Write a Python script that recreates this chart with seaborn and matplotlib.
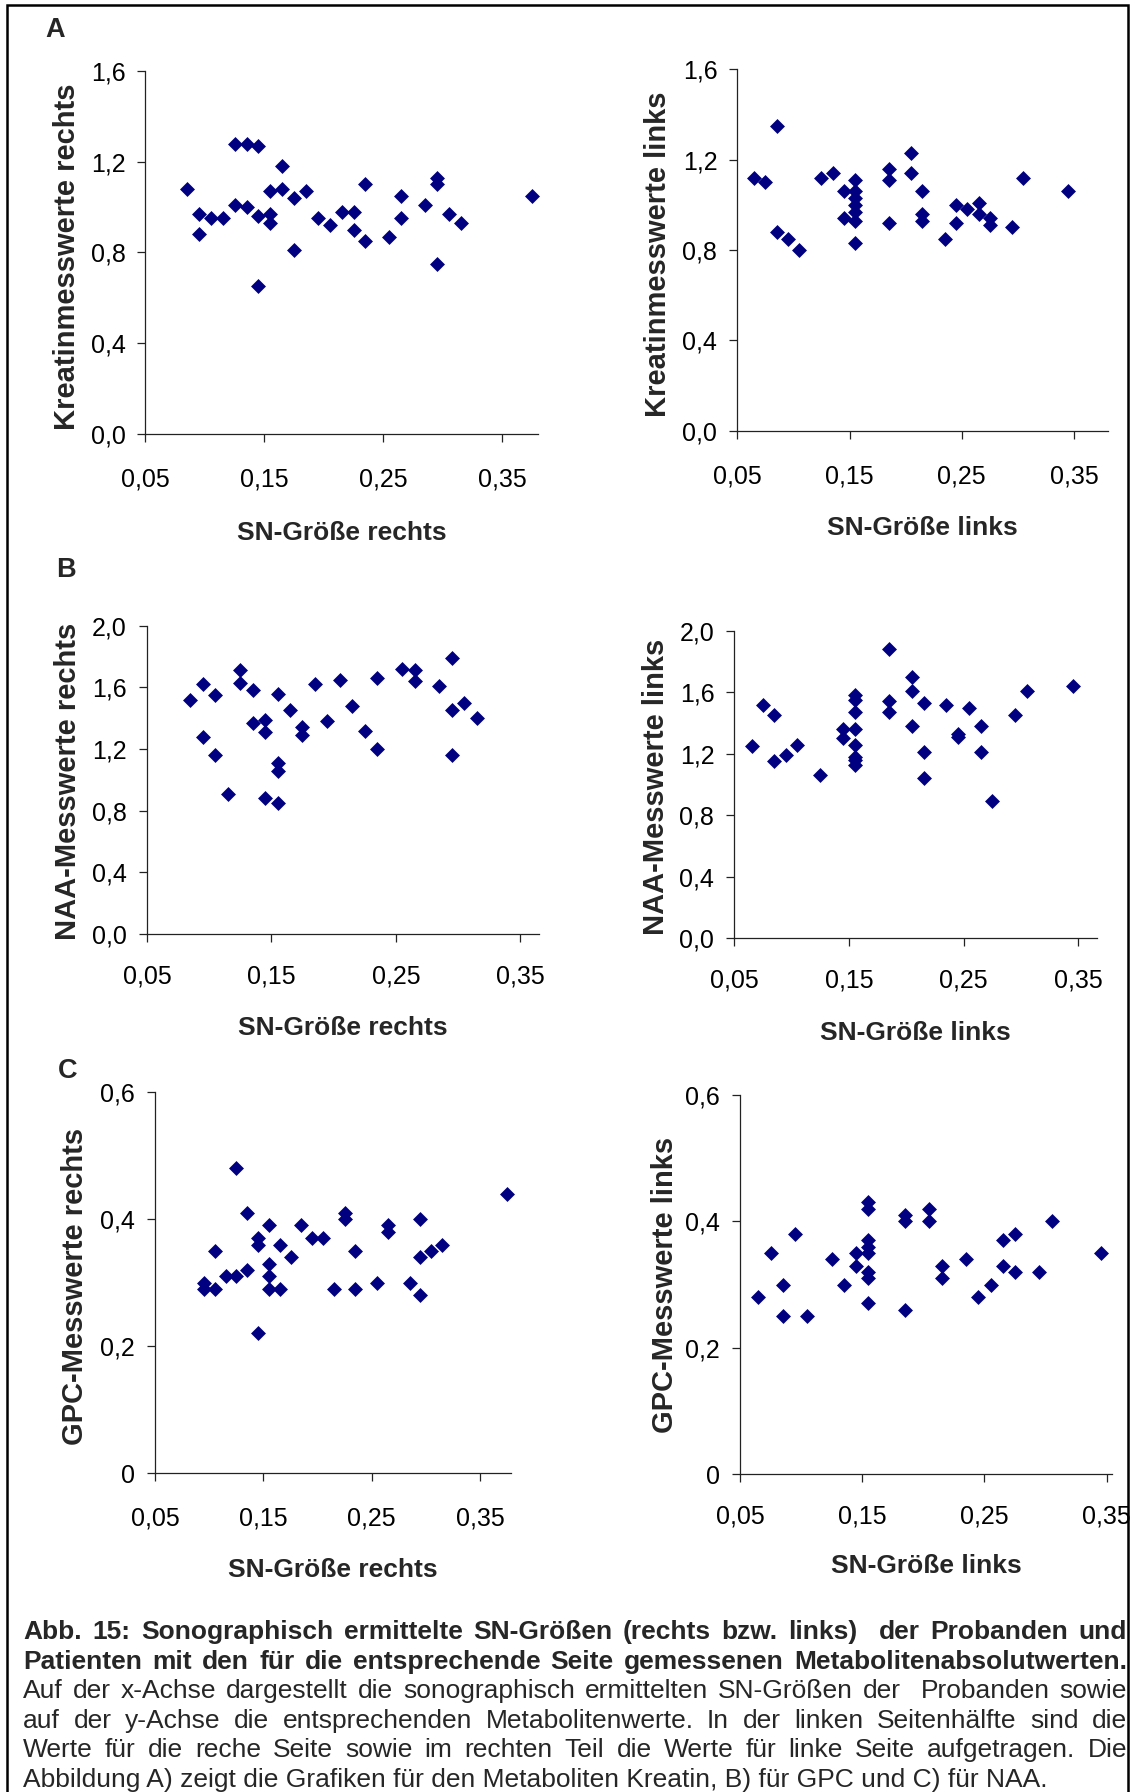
import numpy as np
import pandas as pd
import matplotlib
matplotlib.use("Agg")
import matplotlib.pyplot as plt
import seaborn as sns
from matplotlib.lines import Line2D
from matplotlib.patches import Rectangle
from matplotlib.ticker import FuncFormatter

# ---------------------------------------------------------------- data
# Kreatin (A)
kreatin_sn_rechts = [0.085, 0.095, 0.095, 0.105, 0.115, 0.125, 0.125, 0.135, 0.135, 0.145,
                     0.145, 0.145, 0.155, 0.155, 0.155, 0.165, 0.165, 0.175, 0.175, 0.185,
                     0.195, 0.205, 0.215, 0.225, 0.225, 0.235, 0.235, 0.255, 0.265, 0.265,
                     0.285, 0.295, 0.295, 0.295, 0.305, 0.315, 0.375]
kreatin_rechts = [1.08, 0.97, 0.88, 0.95, 0.95, 1.28, 1.01, 1.28, 1.00, 1.27,
                  0.96, 0.65, 1.07, 0.97, 0.93, 1.18, 1.08, 1.04, 0.81, 1.07,
                  0.95, 0.92, 0.98, 0.98, 0.90, 1.10, 0.85, 0.87, 1.05, 0.95,
                  1.01, 1.13, 1.10, 0.75, 0.97, 0.93, 1.05]
kreatin_sn_links = [0.065, 0.075, 0.085, 0.085, 0.095, 0.105, 0.125, 0.135, 0.145, 0.145,
                    0.155, 0.155, 0.155, 0.155, 0.155, 0.155, 0.155, 0.185, 0.185, 0.185,
                    0.205, 0.205, 0.215, 0.215, 0.215, 0.235, 0.245, 0.245, 0.255, 0.265,
                    0.265, 0.275, 0.275, 0.295, 0.305, 0.345]
kreatin_links = [1.12, 1.10, 1.35, 0.88, 0.85, 0.80, 1.12, 1.14, 1.06, 0.94,
                 1.11, 1.06, 1.03, 1.00, 0.97, 0.93, 0.83, 1.16, 1.11, 0.92,
                 1.23, 1.14, 1.06, 0.96, 0.93, 0.85, 1.00, 0.92, 0.98, 1.01,
                 0.96, 0.94, 0.91, 0.90, 1.12, 1.06]

# NAA (B)
naa_sn_rechts = [0.085, 0.095, 0.095, 0.105, 0.105, 0.115, 0.125, 0.125, 0.135, 0.135,
                 0.145, 0.145, 0.145, 0.155, 0.155, 0.155, 0.155, 0.165, 0.175, 0.175,
                 0.185, 0.195, 0.205, 0.215, 0.225, 0.235, 0.235, 0.255, 0.265, 0.265,
                 0.285, 0.295, 0.295, 0.295, 0.305, 0.315]
naa_rechts = [1.52, 1.62, 1.28, 1.55, 1.16, 0.91, 1.71, 1.63, 1.58, 1.37,
              1.39, 1.31, 0.88, 1.56, 1.11, 1.06, 0.85, 1.45, 1.34, 1.29,
              1.62, 1.38, 1.65, 1.48, 1.32, 1.66, 1.20, 1.72, 1.71, 1.64,
              1.61, 1.79, 1.45, 1.16, 1.50, 1.40]
naa_sn_links = [0.065, 0.075, 0.085, 0.085, 0.095, 0.105, 0.125, 0.145, 0.145, 0.155,
                0.155, 0.155, 0.155, 0.155, 0.155, 0.155, 0.155, 0.185, 0.185, 0.185,
                0.205, 0.205, 0.205, 0.215, 0.215, 0.215, 0.235, 0.245, 0.245, 0.255,
                0.265, 0.265, 0.275, 0.295, 0.305, 0.345]
naa_links = [1.25, 1.52, 1.45, 1.15, 1.19, 1.26, 1.06, 1.36, 1.30, 1.58,
             1.55, 1.47, 1.36, 1.26, 1.18, 1.16, 1.13, 1.88, 1.54, 1.47,
             1.70, 1.61, 1.38, 1.53, 1.21, 1.04, 1.52, 1.33, 1.31, 1.50,
             1.38, 1.21, 0.89, 1.45, 1.61, 1.64]

# GPC (C)
gpc_sn_rechts = [0.095, 0.095, 0.105, 0.105, 0.115, 0.125, 0.125, 0.135, 0.135, 0.145,
                 0.145, 0.145, 0.155, 0.155, 0.155, 0.155, 0.165, 0.165, 0.175, 0.185,
                 0.195, 0.205, 0.215, 0.225, 0.225, 0.235, 0.235, 0.255, 0.265, 0.265,
                 0.285, 0.295, 0.295, 0.295, 0.305, 0.315, 0.375]
gpc_rechts = [0.30, 0.29, 0.35, 0.29, 0.31, 0.48, 0.31, 0.41, 0.32, 0.37,
              0.36, 0.22, 0.39, 0.33, 0.31, 0.29, 0.36, 0.29, 0.34, 0.39,
              0.37, 0.37, 0.29, 0.41, 0.40, 0.35, 0.29, 0.30, 0.39, 0.38,
              0.30, 0.40, 0.34, 0.28, 0.35, 0.36, 0.44]
gpc_sn_links = [0.065, 0.075, 0.085, 0.085, 0.095, 0.105, 0.125, 0.135, 0.145, 0.145,
                0.155, 0.155, 0.155, 0.155, 0.155, 0.155, 0.155, 0.155, 0.185, 0.185,
                0.185, 0.205, 0.205, 0.215, 0.215, 0.235, 0.245, 0.255, 0.265, 0.265,
                0.275, 0.275, 0.295, 0.305, 0.345]
gpc_links = [0.28, 0.35, 0.30, 0.25, 0.38, 0.25, 0.34, 0.30, 0.35, 0.33,
             0.43, 0.42, 0.37, 0.36, 0.35, 0.32, 0.31, 0.27, 0.41, 0.40,
             0.26, 0.42, 0.40, 0.33, 0.31, 0.34, 0.28, 0.30, 0.37, 0.33,
             0.38, 0.32, 0.32, 0.40, 0.35]

sn_ticks = [0.05, 0.15, 0.25, 0.35]
kreatin_ticks = [0.0, 0.4, 0.8, 1.2, 1.6]
naa_ticks = [0.0, 0.4, 0.8, 1.2, 1.6, 2.0]
gpc_ticks = [0.0, 0.2, 0.4, 0.6]

caption_lines = [
    ("Abb. 15: Sonographisch ermittelte SN-Größen (rechts bzw. links)  der Probanden und", "bold", True),
    ("Patienten mit den für die entsprechende Seite gemessenen Metabolitenabsolutwerten.", "bold", True),
    ("Auf der x-Achse dargestellt die sonographisch ermittelten SN-Größen der  Probanden sowie", "normal", True),
    ("auf der y-Achse die entsprechenden Metabolitenwerte. In der linken Seitenhälfte sind die", "normal", True),
    ("Werte für die reche Seite sowie im rechten Teil die Werte für linke Seite aufgetragen. Die", "normal", True),
    ("Abbildung A) zeigt die Grafiken für den Metaboliten Kreatin, B) für GPC und C) für NAA.", "normal", False),
]

# ---------------------------------------------------------------- style
W, H, DPI = 1135, 1792, 100
MARKER_COLOR = "#000080"
AXIS_COLOR = "#222222"
TICK_LEN_PX = 8.0
TICK_FS = 18.0
XLAB_FS = 19.0
YLAB_FS = 21.0
LETTER_FS = 19.5
CAP_FS = 19.0
MARKER_AREA = 58

sns.set_theme(style="white")
plt.rcParams["font.family"] = ["Liberation Sans", "DejaVu Sans"]


def px2pt(v):
    return v * 72.0 / DPI


def comma_fmt(spec):
    return FuncFormatter(lambda v, pos: format(v, spec).replace(".", ","))


def gpc_fmt(v, pos):
    return "0" if abs(v) < 1e-9 else format(v, ".1f").replace(".", ",")


fig = plt.figure(figsize=(W / DPI, H / DPI), dpi=DPI)
fig.patch.set_facecolor("white")

panels = [
    dict(sn=kreatin_sn_rechts, val=kreatin_rechts, box=(145.4, 70.9, 538.0, 434.0), xmax=0.380,
         yticks=kreatin_ticks, yfmt=comma_fmt(".1f"),
         ylabel="Kreatinmesswerte rechts", xlabel="SN-Größe rechts",
         ylab_xy=(64.0, 257.0), xlab_base=540.0, tick_base=485.7),
    dict(sn=kreatin_sn_links, val=kreatin_links, box=(737.3, 69.4, 1108.3, 430.7), xmax=0.3806,
         yticks=kreatin_ticks, yfmt=comma_fmt(".1f"),
         ylabel="Kreatinmesswerte links", xlabel="SN-Größe links",
         ylab_xy=(654.7, 254.0), xlab_base=535.4, tick_base=482.7),
    dict(sn=naa_sn_rechts, val=naa_rechts, box=(146.9, 625.7, 539.0, 934.0), xmax=0.365,
         yticks=naa_ticks, yfmt=comma_fmt(".1f"),
         ylabel="NAA-Messwerte rechts", xlabel="SN-Größe rechts",
         ylab_xy=(65.4, 781.7), xlab_base=1035.0, tick_base=982.0),
    dict(sn=naa_sn_links, val=naa_links, box=(734.3, 630.7, 1096.7, 938.3), xmax=0.366,
         yticks=naa_ticks, yfmt=comma_fmt(".1f"),
         ylabel="NAA-Messwerte links", xlabel="SN-Größe links",
         ylab_xy=(652.9, 786.7), xlab_base=1040.0, tick_base=986.7),
    dict(sn=gpc_sn_rechts, val=gpc_rechts, box=(155.2, 1092.1, 511.4, 1473.2), xmax=0.379,
         yticks=gpc_ticks, yfmt=FuncFormatter(gpc_fmt),
         ylabel="GPC-Messwerte rechts", xlabel="SN-Größe rechts",
         ylab_xy=(71.8, 1286.4), xlab_base=1576.8, tick_base=1524.0),
    dict(sn=gpc_sn_links, val=gpc_links, box=(740.0, 1095.0, 1112.3, 1474.0), xmax=0.3546,
         yticks=gpc_ticks, yfmt=FuncFormatter(gpc_fmt),
         ylabel="GPC-Messwerte links", xlabel="SN-Größe links",
         ylab_xy=(661.9, 1284.6), xlab_base=1573.2, tick_base=1522.7),
]

tick_px = TICK_FS * DPI / 72.0

for p in panels:
    l, t, r, b = p["box"]
    ax = fig.add_axes([l / W, 1 - b / H, (r - l) / W, (b - t) / H])
    ax.set_facecolor("none")
    df = pd.DataFrame({"SN": p["sn"], "Wert": p["val"]})
    sns.scatterplot(data=df, x="SN", y="Wert", ax=ax, marker="D", s=MARKER_AREA,
                    color=MARKER_COLOR, edgecolor=MARKER_COLOR, linewidth=0,
                    legend=False, zorder=3, clip_on=False)
    ax.set_xlim(0.05, p["xmax"])
    ax.set_ylim(0, p["yticks"][-1])
    ax.set_xticks(sn_ticks)
    ax.set_yticks(p["yticks"])
    ax.xaxis.set_major_formatter(comma_fmt(".2f"))
    ax.yaxis.set_major_formatter(p["yfmt"])
    ax.grid(False)
    for side in ("top", "right"):
        ax.spines[side].set_visible(False)
    for side in ("left", "bottom"):
        ax.spines[side].set_color(AXIS_COLOR)
        ax.spines[side].set_linewidth(0.9)
    ax.tick_params(axis="both", which="major", direction="out",
                   length=px2pt(TICK_LEN_PX), width=0.9, color=AXIS_COLOR,
                   labelsize=TICK_FS, labelcolor="black", bottom=True, left=True)
    xpad = p["tick_base"] - 0.716 * tick_px - b - TICK_LEN_PX
    ax.tick_params(axis="x", pad=px2pt(xpad))
    ax.tick_params(axis="y", pad=px2pt(12.0))

    ax.set_xlabel(p["xlabel"], fontsize=XLAB_FS, fontweight="bold", va="baseline")
    ax.xaxis.set_label_coords(0.5, -(p["xlab_base"] - b) / (b - t))
    ax.set_ylabel(p["ylabel"], fontsize=YLAB_FS, fontweight="bold",
                  rotation=90, ha="center", va="center")
    cx, cy = p["ylab_xy"]
    ax.yaxis.set_label_coords((cx + 3 - l) / (r - l), (b - cy) / (b - t))

# panel letters
for letter, (lx, lbase) in zip(["A", "B", "C"], [(54.9, 36.8), (66.3, 576.7), (67.8, 1077.5)]):
    fig.text(lx / W, 1 - lbase / H, letter, fontsize=LETTER_FS, fontweight="bold",
             ha="center", va="baseline")

# caption, justified between the frame margins
CAP_LEFT, CAP_RIGHT = 23.0, 1127.0
CAP_BASE0, CAP_STEP = 1639.3, 29.5
renderer = fig.canvas.get_renderer()
for i, (line, weight, justify) in enumerate(caption_lines):
    yf = 1 - (CAP_BASE0 + i * CAP_STEP) / H
    if not justify:
        fig.text(CAP_LEFT / W, yf, line, fontsize=CAP_FS, fontweight=weight,
                 ha="left", va="baseline")
        continue
    words = line.split(" ")
    arts = [fig.text(0, yf, w, fontsize=CAP_FS, fontweight=weight,
                     ha="left", va="baseline") for w in words]
    widths = [a.get_window_extent(renderer).width if w else 0.0
              for a, w in zip(arts, words)]
    gap = (CAP_RIGHT - CAP_LEFT - sum(widths)) / (len(words) - 1)
    x = CAP_LEFT
    for a, wd in zip(arts, widths):
        a.set_x(x / W)
        x += wd + gap

# outer frame (open at the bottom) and white margin beyond its right edge
FR_L, FR_T, FR_R = 7.0, 5.3, 1128.3
fig.add_artist(Rectangle((1129.6 / W, 0), 1 - 1129.6 / W, 1, transform=fig.transFigure,
                         facecolor="white", edgecolor="none", zorder=10))
fig.add_artist(Line2D([FR_L / W, FR_L / W, FR_R / W, FR_R / W],
                      [-0.01, 1 - FR_T / H, 1 - FR_T / H, -0.01],
                      transform=fig.transFigure, color="black", lw=1.8,
                      solid_joinstyle="miter", zorder=11))

fig.savefig("out.png", dpi=DPI, facecolor="white")
